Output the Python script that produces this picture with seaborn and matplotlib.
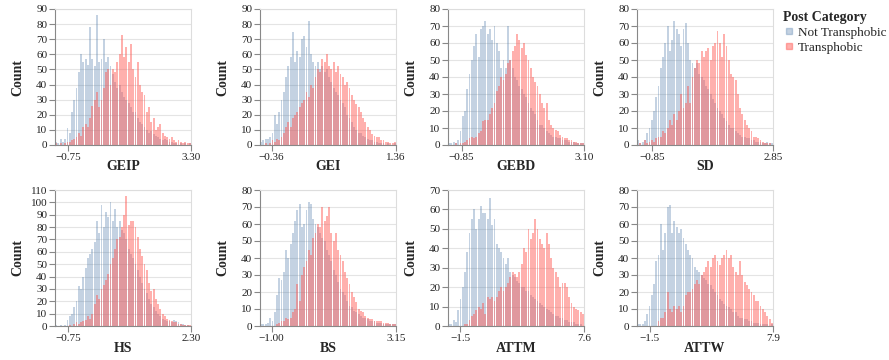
import numpy as np
import pandas as pd
import matplotlib
matplotlib.use("Agg")
import matplotlib.pyplot as plt
from matplotlib.lines import Line2D
import seaborn as sns

# ---------- DATA (bin counts, 60 equal bins per panel) ----------
features = ["GEIP", "GEI", "GEBD", "SD", "HS", "BS", "ATTM", "ATTW"]
x_lo = [-1.18, -0.52, -1.29, -1.30, -1.08, -1.39, -2.38, -2.49]
x_hi = [3.30, 1.36, 3.10, 2.85, 2.30, 3.15, 7.6, 7.9]
tick_lo = [-0.75, -0.36, -0.85, -0.85, -0.75, -1.00, -1.5, -1.5]
tick_fmt = ["{:.2f}"] * 6 + ["{:.1f}"] * 2
y_max = [90, 90, 80, 80, 110, 80, 70, 80]
categories = ["Not Transphobic", "Transphobic"]

geip_not = [2, 1, 4, 2, 4, 11, 8, 22, 30, 38, 48, 60, 55, 57, 53, 78, 57, 52, 86, 55,
            57, 70, 55, 58, 52, 47, 42, 38, 40, 35, 32, 30, 28, 25, 22, 22, 18, 15, 14, 12,
            10, 8, 9, 7, 6, 5, 4, 3, 4, 3, 2, 2, 1, 1, 0, 1, 0, 1, 0, 1]
geip_trans = [1, 0, 1, 0, 1, 2, 2, 3, 4, 5, 8, 6, 12, 14, 12, 18, 26, 30, 35, 25,
              30, 38, 48, 50, 40, 50, 48, 55, 60, 73, 58, 65, 55, 67, 50, 45, 55, 40, 35, 33,
              22, 25, 15, 18, 10, 12, 14, 8, 6, 5, 4, 5, 3, 2, 3, 2, 1, 2, 1, 1]

gei_not = [2, 3, 4, 4, 5, 8, 20, 14, 22, 30, 35, 45, 52, 58, 75, 55, 62, 58, 70, 72,
           65, 82, 60, 55, 52, 55, 50, 52, 48, 50, 45, 42, 38, 35, 33, 30, 28, 25, 20, 18,
           15, 12, 10, 8, 8, 6, 5, 4, 3, 3, 2, 2, 1, 1, 1, 0, 1, 0, 0, 1]
gei_trans = [0, 0, 1, 0, 1, 3, 2, 4, 3, 5, 8, 12, 15, 12, 18, 20, 22, 25, 28, 30,
             35, 32, 40, 38, 45, 50, 48, 57, 55, 60, 52, 50, 55, 48, 52, 47, 45, 40, 42, 38,
             33, 30, 27, 25, 22, 18, 15, 12, 10, 7, 6, 5, 5, 3, 3, 2, 2, 1, 1, 2]

gebd_not = [1, 1, 2, 1, 3, 8, 17, 20, 33, 42, 50, 58, 65, 52, 68, 70, 73, 65, 68, 62,
            70, 60, 55, 45, 50, 45, 70, 50, 45, 40, 38, 35, 33, 30, 28, 25, 22, 20, 18, 15,
            12, 12, 10, 8, 7, 6, 5, 5, 4, 4, 3, 3, 3, 2, 2, 2, 1, 1, 1, 1]
gebd_trans = [0, 0, 0, 1, 0, 1, 1, 2, 3, 4, 5, 4, 5, 7, 8, 14, 15, 15, 18, 22,
              25, 32, 35, 40, 38, 42, 48, 50, 55, 58, 65, 62, 57, 60, 53, 50, 45, 40, 37, 35,
              30, 25, 22, 25, 15, 12, 10, 9, 8, 6, 5, 4, 4, 3, 3, 2, 2, 1, 1, 1]

sd_not = [3, 1, 2, 3, 7, 10, 15, 20, 28, 35, 45, 52, 60, 70, 55, 62, 73, 68, 65, 58,
          68, 72, 60, 50, 48, 45, 48, 42, 40, 38, 35, 33, 30, 27, 25, 22, 20, 18, 16, 14,
          12, 10, 10, 8, 7, 6, 5, 5, 4, 4, 3, 3, 2, 2, 2, 1, 1, 2, 1, 1]
sd_trans = [0, 1, 0, 3, 1, 2, 3, 2, 4, 5, 5, 8, 7, 10, 15, 12, 18, 15, 20, 30,
            22, 25, 35, 25, 40, 45, 50, 48, 55, 52, 55, 57, 50, 58, 60, 67, 60, 52, 65, 58,
            50, 42, 40, 38, 30, 22, 18, 15, 12, 10, 8, 5, 5, 4, 3, 2, 1, 1, 1, 0]

hs_not = [1, 0, 1, 0, 1, 5, 8, 10, 15, 20, 32, 30, 40, 47, 55, 58, 62, 68, 85, 75,
          98, 80, 92, 88, 100, 85, 95, 80, 85, 78, 75, 70, 62, 58, 55, 50, 45, 40, 35, 30,
          27, 22, 18, 15, 12, 10, 8, 6, 5, 4, 4, 3, 5, 4, 3, 2, 2, 1, 1, 0]
hs_trans = [0, 0, 0, 0, 0, 0, 1, 0, 2, 3, 2, 3, 4, 5, 8, 6, 10, 18, 25, 22,
            30, 33, 37, 42, 50, 55, 62, 70, 72, 80, 90, 105, 82, 85, 85, 80, 72, 62, 57, 50,
            45, 35, 28, 30, 22, 18, 14, 10, 8, 6, 5, 4, 3, 3, 2, 2, 1, 1, 1, 1]

bs_not = [1, 1, 1, 2, 5, 3, 8, 18, 28, 27, 32, 45, 40, 48, 55, 62, 68, 72, 58, 60,
          68, 73, 72, 63, 60, 58, 55, 52, 50, 45, 42, 38, 33, 30, 26, 22, 20, 18, 15, 12,
          11, 9, 8, 7, 6, 5, 5, 4, 3, 3, 3, 2, 2, 2, 1, 1, 1, 1, 1, 1]
bs_trans = [0, 0, 0, 0, 0, 0, 0, 1, 2, 3, 3, 5, 4, 5, 8, 10, 25, 15, 30, 35,
            38, 45, 42, 52, 55, 60, 58, 70, 62, 65, 70, 55, 50, 55, 45, 42, 38, 32, 28, 25,
            20, 17, 14, 10, 9, 8, 6, 5, 4, 4, 3, 3, 3, 3, 2, 2, 2, 1, 1, 1]

attm_not = [1, 1, 3, 2, 8, 14, 20, 28, 38, 48, 55, 60, 50, 55, 62, 58, 58, 55, 66, 52,
            55, 42, 40, 38, 35, 32, 35, 28, 26, 25, 23, 22, 20, 20, 18, 18, 16, 15, 14, 13,
            12, 11, 10, 9, 8, 7, 6, 5, 5, 4, 4, 3, 3, 2, 2, 2, 1, 1, 1, 0]
attm_trans = [0, 0, 0, 0, 0, 0, 0, 1, 1, 3, 5, 6, 8, 10, 9, 12, 6, 15, 14, 15,
              13, 15, 18, 20, 18, 20, 22, 25, 28, 27, 25, 28, 32, 40, 38, 50, 45, 48, 55, 50,
              45, 42, 40, 48, 42, 35, 30, 28, 25, 20, 22, 22, 20, 15, 12, 10, 9, 8, 7, 6]

attw_not = [1, 1, 1, 3, 7, 12, 18, 25, 38, 42, 60, 45, 55, 70, 71, 55, 62, 58, 55, 57,
            52, 48, 45, 42, 40, 35, 33, 32, 30, 28, 27, 25, 24, 22, 20, 18, 16, 15, 13, 12,
            11, 10, 8, 8, 6, 5, 5, 4, 4, 3, 3, 2, 2, 2, 1, 1, 1, 1, 0, 1]
attw_trans = [0, 0, 0, 0, 0, 0, 0, 0, 0, 3, 5, 5, 8, 20, 10, 8, 12, 10, 12, 8,
              12, 18, 20, 20, 22, 25, 27, 25, 30, 32, 35, 38, 35, 40, 42, 38, 36, 40, 42, 45,
              40, 42, 35, 32, 30, 38, 30, 26, 24, 22, 20, 18, 15, 15, 12, 10, 8, 6, 4, 2]

not_counts = [geip_not, gei_not, gebd_not, sd_not, hs_not, bs_not, attm_not, attw_not]
trans_counts = [geip_trans, gei_trans, gebd_trans, sd_trans, hs_trans, bs_trans, attm_trans, attw_trans]

# ---------- STYLE ----------
sns.set_style("white")
plt.rcParams["font.family"] = ["Liberation Serif", "DejaVu Serif"]

blue = "#4c78a8"
red = "#ff5a55"
W, H = 889, 360

fig = plt.figure(figsize=(W / 100, H / 100), dpi=100)

lefts = [55, 260, 448, 637]
tops = [9, 190]
pw, ph = 136, 136

for i, feat in enumerate(features):
    r, c = divmod(i, 4)
    ax = fig.add_axes([lefts[c] / W, 1 - (tops[r] + ph) / H, pw / W, ph / H])
    n = len(not_counts[i])
    edges = np.linspace(x_lo[i], x_hi[i], n + 1)
    centers = (edges[:-1] + edges[1:]) / 2
    df = pd.DataFrame({"value": centers, "not": not_counts[i], "trans": trans_counts[i]})

    sns.histplot(data=df, x="value", weights="not", bins=n, binrange=(x_lo[i], x_hi[i]),
                 color=blue, alpha=0.33, shrink=0.8, linewidth=0, ax=ax)
    sns.histplot(data=df, x="value", weights="trans", bins=n, binrange=(x_lo[i], x_hi[i]),
                 color=red, alpha=0.48, shrink=0.8, linewidth=0, ax=ax)

    ax.set_xlim(x_lo[i], x_hi[i])
    ax.set_ylim(0, y_max[i])
    ax.set_yticks(range(0, y_max[i] + 1, 10))
    ax.yaxis.grid(True, color="#e4e4e4", linewidth=0.8)
    ax.set_axisbelow(True)
    ticks = [tick_lo[i], x_hi[i]]
    ax.set_xticks(ticks)
    ax.set_xticklabels([tick_fmt[i].format(t).replace("-", "\u2212") for t in ticks])
    ax.tick_params(axis="both", length=4, width=0.8, color="#888888", labelsize=8,
                   pad=1.5, direction="out", labelcolor="#222222")
    ax.tick_params(axis="both", bottom=True, left=True)
    for s in ["top", "right"]:
        ax.spines[s].set_color("#dddddd")
        ax.spines[s].set_linewidth(0.8)
    for s in ["left", "bottom"]:
        ax.spines[s].set_color("#888888")
        ax.spines[s].set_linewidth(0.8)

    ax.set_ylabel("Count", fontsize=10, fontweight="bold")
    ax.yaxis.set_label_coords(-37 / pw, 0.5)
    ax.set_xlabel(feat, fontsize=10, fontweight="bold")
    ax.xaxis.set_label_coords(0.5, -22 / ph)
    ax.xaxis.label.set_va("center")
    ax.yaxis.label.set_va("center")

handles = [Line2D([], [], marker="s", linestyle="", markersize=4, color=blue, alpha=0.33),
           Line2D([], [], marker="s", linestyle="", markersize=4, color=red, alpha=0.48)]
leg = fig.legend(handles, categories, title="Post Category", loc="upper left",
                 bbox_to_anchor=(774 / W, 1 - 2 / H), frameon=False, fontsize=9.5,
                 title_fontproperties={"weight": "bold", "size": 10},
                 handletextpad=0.3, labelspacing=0.2, borderpad=0.2, handlelength=0.8,
                 alignment="left")

fig.savefig("out.png", dpi=100)
